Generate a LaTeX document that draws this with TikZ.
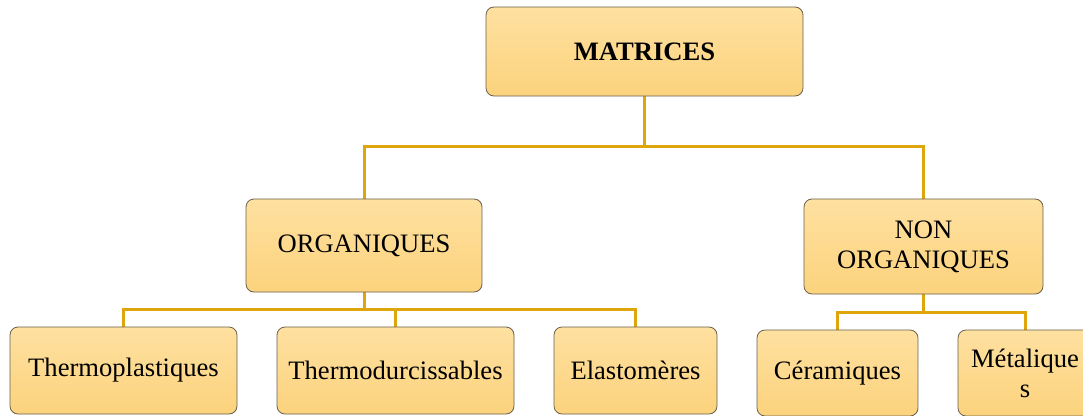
\documentclass[tikz,border=0pt]{standalone}
\usepackage{fontspec}
\setmainfont{Liberation Serif}
\usetikzlibrary{backgrounds}
\definecolor{linkc}{RGB}{222,166,10}
\definecolor{boxtop}{RGB}{254,224,160}
\definecolor{boxbot}{RGB}{252,211,125}
\definecolor{boxedge}{RGB}{105,95,75}
\tikzset{
  box/.style={draw=boxedge, line width=0.8pt, rounded corners=8pt,
    top color=boxtop, bottom color=boxbot, inner sep=0pt, align=center,
    font=\fontsize{26.6}{30}\selectfont, text=black},
  link/.style={draw=linkc, line width=3pt}
}
\begin{document}
\begin{tikzpicture}[x=1pt,y=-1pt]
\useasboundingbox (0,0) rectangle (1083,415);
\clip (0,0) rectangle (1083,415);
\node[box, minimum width=317pt, minimum height=89pt] (mat) at (644.5,51.5) {\bfseries MATRICES};
\node[box, minimum width=236pt, minimum height=93pt] (org) at (364,245.5) {ORGANIQUES};
\node[box, minimum width=239pt, minimum height=95pt] (norg) at (923.5,246.5) {NON\\ORGANIQUES};
\node[box, minimum width=227pt, minimum height=87pt] (thp) at (123.5,370.5) {Thermoplastiques};
\node[box, minimum width=237pt, minimum height=87pt] (thd) at (395.5,370.5) {Thermodurcissables};
\node[box, minimum width=163pt, minimum height=87pt] (ela) at (635.5,370.5) {Elastomères};
\node[box, minimum width=161pt, minimum height=86pt] (cer) at (837.5,373) {Céramiques};
\node[box, minimum width=134pt, minimum height=86pt] (met) at (1025,373) {Métalique\\s};
\coordinate (bus1) at (0,146);
\coordinate (bus2) at (0,309);
\coordinate (bus3) at (0,312);
\begin{scope}[on background layer]
\draw[link] (mat.south) -- (mat.south |- bus1);
\draw[link] (org.north) |- (bus1 -| mat.south) -| (norg.north);
\draw[link] (org.south) -- (org.south |- bus2);
\draw[link] (thp.north) |- (bus2 -| org.south) -| (ela.north);
\draw[link] (thd.north) -- (thd.north |- bus2);
\draw[link] (norg.south) -- (norg.south |- bus3);
\draw[link] (cer.north) |- (bus3 -| norg.south) -| (met.north);
\end{scope}
\end{tikzpicture}
\end{document}
